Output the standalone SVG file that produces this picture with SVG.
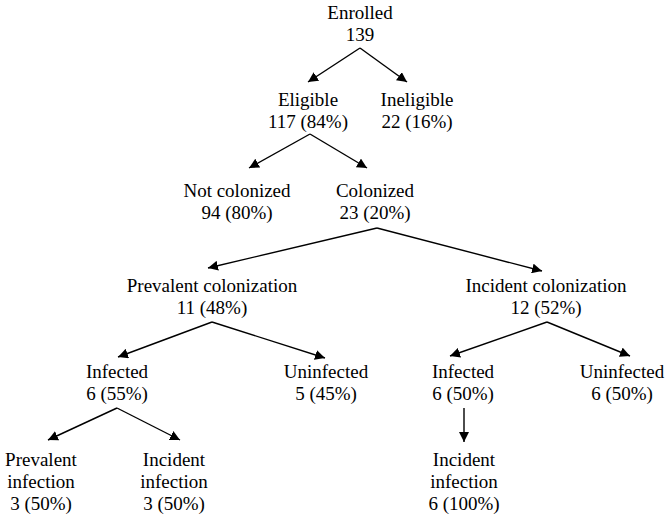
<svg xmlns="http://www.w3.org/2000/svg" width="666" height="526" viewBox="0 0 666 526">
<style>
.t text{font-family:'Liberation Serif','Times New Roman',Times,serif;font-size:19px;fill:#000;text-anchor:middle}
.c line{stroke:#000;stroke-width:1.4;fill:none}
</style>
<defs>
<marker id="ah" viewBox="0 0 10 10" refX="10" refY="5" markerWidth="10" markerHeight="10" markerUnits="userSpaceOnUse" orient="auto">
<path d="M0,0 L10,5 L0,10 z" fill="#000"/>
</marker>
</defs>
<rect width="666" height="526" fill="#fff"/>
<g class="c">
<line x1="360" y1="48" x2="308" y2="82" marker-end="url(#ah)"/>
<line x1="360" y1="48" x2="407" y2="82" marker-end="url(#ah)"/>
<line x1="310" y1="134" x2="249" y2="168" marker-end="url(#ah)"/>
<line x1="310" y1="134" x2="367" y2="168" marker-end="url(#ah)"/>
<line x1="377" y1="228" x2="208" y2="268" marker-end="url(#ah)"/>
<line x1="377" y1="228" x2="542" y2="271" marker-end="url(#ah)"/>
<line x1="212" y1="322" x2="118" y2="357" marker-end="url(#ah)"/>
<line x1="212" y1="322" x2="325" y2="358" marker-end="url(#ah)"/>
<line x1="547" y1="322" x2="450" y2="356" marker-end="url(#ah)"/>
<line x1="547" y1="322" x2="630" y2="356" marker-end="url(#ah)"/>
<line x1="117" y1="408" x2="48" y2="440" marker-end="url(#ah)"/>
<line x1="117" y1="408" x2="180" y2="440" marker-end="url(#ah)"/>
<line x1="464" y1="408" x2="464" y2="442" marker-end="url(#ah)"/>
</g>
<g class="t" font-family="'Liberation Serif', 'Times New Roman', serif" font-size="19" text-anchor="middle">
<g id="enrolled"><text x="360" y="19">Enrolled</text><text x="360" y="41">139</text></g>
<g id="eligible"><text x="308" y="106">Eligible</text><text x="308" y="128">117 (84%)</text></g>
<g id="ineligible"><text x="417" y="106">Ineligible</text><text x="417" y="128">22 (16%)</text></g>
<g id="not-colonized"><text x="237" y="197">Not colonized</text><text x="237" y="219">94 (80%)</text></g>
<g id="colonized"><text x="375" y="197">Colonized</text><text x="375" y="219">23 (20%)</text></g>
<g id="prevalent-colonization"><text x="212" y="292">Prevalent colonization</text><text x="212" y="314">11 (48%)</text></g>
<g id="incident-colonization"><text x="546" y="292">Incident colonization</text><text x="546" y="314">12 (52%)</text></g>
<g id="infected-left"><text x="117" y="378">Infected</text><text x="117" y="400">6 (55%)</text></g>
<g id="uninfected-left"><text x="326" y="378">Uninfected</text><text x="326" y="400">5 (45%)</text></g>
<g id="infected-right"><text x="463" y="378">Infected</text><text x="463" y="400">6 (50%)</text></g>
<g id="uninfected-right"><text x="622" y="378">Uninfected</text><text x="622" y="400">6 (50%)</text></g>
<g id="prevalent-infection"><text x="41" y="466">Prevalent</text><text x="41" y="488">infection</text><text x="41" y="510">3 (50%)</text></g>
<g id="incident-infection-left"><text x="174" y="466">Incident</text><text x="174" y="488">infection</text><text x="174" y="510">3 (50%)</text></g>
<g id="incident-infection-right"><text x="464" y="466">Incident</text><text x="464" y="488">infection</text><text x="464" y="510">6 (100%)</text></g>
</g>
</svg>
